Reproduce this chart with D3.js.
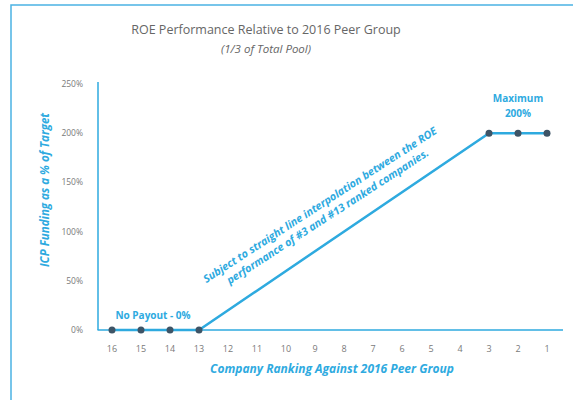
<!DOCTYPE html>
<html>
<head>
<meta charset="utf-8">
<script src="https://cdn.jsdelivr.net/npm/d3@7"></script>
<style>
  body { margin: 0; background: #fff; }
  svg text { font-family: "Open Sans", "DejaVu Sans", sans-serif; }
</style>
</head>
<body>
<div id="chart"></div>
<script>
// chart data
const ranks = ["16","15","14","13","12","11","10","9","8","7","6","5","4","3","2","1"];
const pointRanks = ["16","15","14","13","3","2","1"];
const pointValues = [0, 0, 0, 0, 200, 200, 200];
const yTicks = [0, 50, 100, 150, 200, 250];

const width = 573;
const height = 400;
const blue = "#2eaadf";
const dark = "#3e5466";

const svg = d3.select("#chart")
  .append("svg")
  .attr("width", width)
  .attr("height", height);

// outer frame (only left and top visible)
svg.append("rect")
  .attr("x", 11).attr("y", 5)
  .attr("width", 600).attr("height", 420)
  .attr("fill", "none")
  .attr("stroke", "#4bb3e3")
  .attr("stroke-width", 1.5);

const x = d3.scalePoint()
  .domain(ranks)
  .range([97.5, 561.5])
  .padding(0.5);

const y = d3.scaleLinear()
  .domain([0, 250])
  .range([330, 84]);

// titles
svg.append("text")
  .attr("x", 266).attr("y", 34)
  .attr("text-anchor", "middle")
  .attr("font-size", 12.5)
  .attr("fill", "#666")
  .text("ROE Performance Relative to 2016 Peer Group");

svg.append("text")
  .attr("x", 266).attr("y", 53)
  .attr("text-anchor", "middle")
  .attr("font-size", 11.5)
  .attr("font-style", "italic")
  .attr("fill", "#666")
  .text("(1/3 of Total Pool)");

// axes lines
svg.append("line")
  .attr("x1", 98).attr("x2", 98)
  .attr("y1", y(250) - 2).attr("y2", y(0))
  .attr("stroke", blue).attr("stroke-width", 1.5);
svg.append("line")
  .attr("x1", 97.5).attr("x2", 563)
  .attr("y1", y(0)).attr("y2", y(0))
  .attr("stroke", blue).attr("stroke-width", 1.5);

// y tick labels
svg.selectAll(".ytick")
  .data(yTicks)
  .enter()
  .append("text")
  .attr("class", "ytick")
  .attr("x", 83)
  .attr("y", d => y(d) + 3)
  .attr("text-anchor", "end")
  .attr("font-size", 8.5)
  .attr("fill", "#7a7a7a")
  .text(d => d + "%");

// x tick labels
svg.selectAll(".xtick")
  .data(ranks)
  .enter()
  .append("text")
  .attr("class", "xtick")
  .attr("x", d => x(d))
  .attr("y", 352)
  .attr("text-anchor", "middle")
  .attr("font-size", 9)
  .attr("fill", "#7a7a7a")
  .text(d => d);

// axis titles
svg.append("text")
  .attr("x", 332).attr("y", 373)
  .attr("text-anchor", "middle")
  .attr("font-size", 12)
  .attr("font-weight", "bold")
  .attr("font-style", "italic")
  .attr("fill", blue)
  .text("Company Ranking Against 2016 Peer Group");

svg.append("text")
  .attr("transform", "translate(49,190) rotate(-90)")
  .attr("text-anchor", "middle")
  .attr("font-size", 11.5)
  .attr("font-weight", "bold")
  .attr("font-style", "italic")
  .attr("fill", blue)
  .text("ICP Funding as a % of Target");

// payout line
const line = d3.line()
  .x((d, i) => x(pointRanks[i]))
  .y(d => y(d));

svg.append("path")
  .datum(pointValues)
  .attr("d", line)
  .attr("fill", "none")
  .attr("stroke", blue)
  .attr("stroke-width", 2.5);

svg.selectAll(".dot")
  .data(pointValues)
  .enter()
  .append("circle")
  .attr("class", "dot")
  .attr("cx", (d, i) => x(pointRanks[i]))
  .attr("cy", d => y(d))
  .attr("r", 3.5)
  .attr("fill", dark);

// annotations
svg.append("text")
  .attr("x", 153).attr("y", 319)
  .attr("text-anchor", "middle")
  .attr("font-size", 10)
  .attr("font-weight", "bold")
  .attr("fill", blue)
  .text("No Payout - 0%");

svg.append("text")
  .attr("x", x("2")).attr("y", 102)
  .attr("text-anchor", "middle")
  .attr("font-size", 10)
  .attr("font-weight", "bold")
  .attr("fill", blue)
  .text("Maximum");
svg.append("text")
  .attr("x", x("2")).attr("y", 117)
  .attr("text-anchor", "middle")
  .attr("font-size", 10)
  .attr("font-weight", "bold")
  .attr("fill", blue)
  .text("200%");

const note = svg.append("text")
  .attr("transform", "translate(322,208) rotate(-33)")
  .attr("text-anchor", "middle")
  .attr("font-size", 10.8)
  .attr("font-weight", "bold")
  .attr("font-style", "italic")
  .attr("fill", blue);
note.append("tspan").attr("x", 0).attr("dy", 0)
  .text("Subject to straight line interpolation between the ROE");
note.append("tspan").attr("x", 0).attr("dy", 14)
  .text("performance of #3 and #13 ranked companies.");
</script>
</body>
</html>
